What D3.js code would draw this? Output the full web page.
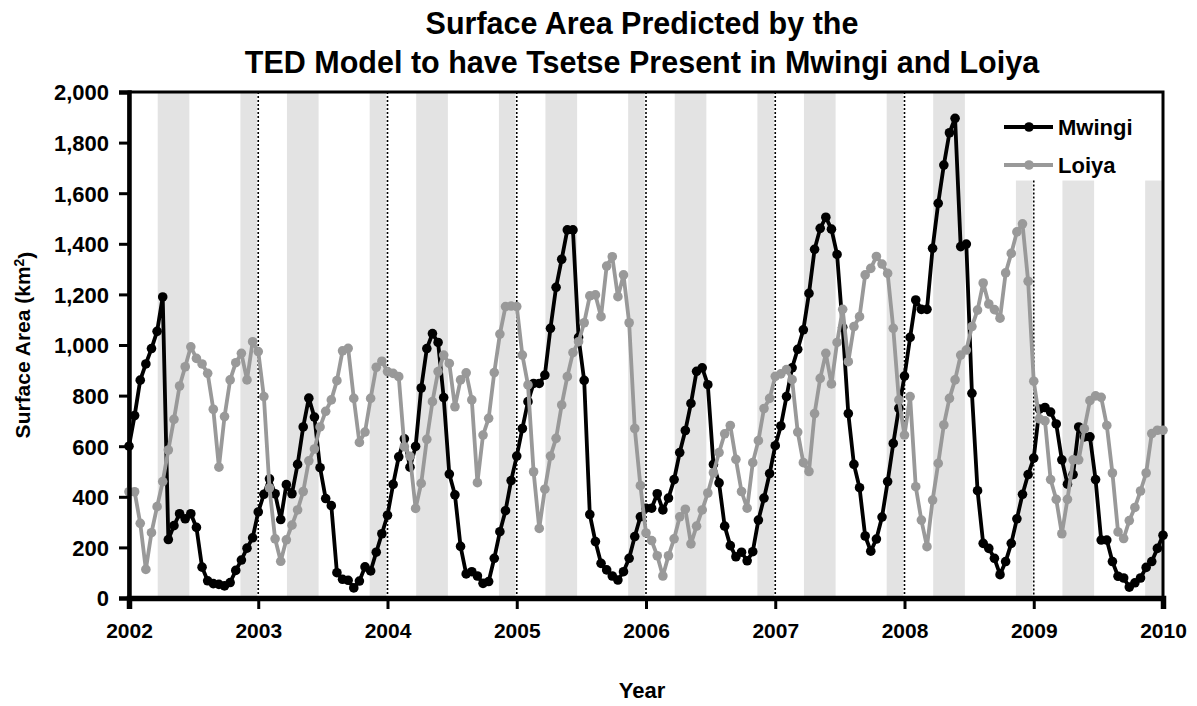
<!DOCTYPE html>
<html>
<head>
<meta charset="utf-8">
<script src="https://d3js.org/d3.v7.min.js"></script>
<style>
body { margin: 0; background: #fff; }
text { font-family: "Liberation Sans", Arial, sans-serif; font-weight: bold; fill: #000; }
</style>
</head>
<body>
<script>
// values: one point every 16 days, 23 per year
var mwingi = [600,721,861,925,986,1054,1190,231,286,333,313,333,279,122,68,57,54,48,61,109,150,197,238,
  340,410,471,412,310,448,412,528,676,790,715,515,393,365,100,74,70,40,67,123,107,181,254,
  327,449,558,629,517,599,830,986,1045,1010,792,490,408,204,95,104,87,58,65,157,262,345,464,
  561,670,776,848,848,881,1066,1228,1339,1455,1455,1030,860,330,223,137,111,87,71,104,157,243,321,
  355,355,412,348,395,468,575,662,769,896,910,843,528,455,284,207,163,181,147,183,308,395,492,
  602,680,796,910,983,1060,1204,1378,1461,1505,1458,1358,1070,729,528,436,245,185,233,320,460,611,750,
  877,1030,1178,1141,1141,1382,1560,1711,1839,1896,1389,1399,809,424,216,196,157,92,144,216,313,410,488,
  553,747,753,735,688,546,450,488,676,637,637,468,229,229,144,86,79,43,60,79,121,144,196,248];

var loiya = [420,420,295,113,258,361,460,585,706,838,914,993,947,925,888,746,517,717,862,930,967,862,1013,
  974,796,435,234,145,230,288,348,421,542,589,676,738,783,859,977,987,789,615,656,789,912,936,
  895,888,875,598,560,354,453,627,776,895,960,927,756,862,890,783,456,644,710,891,1043,1152,1154,
  1152,960,842,499,275,430,561,631,763,875,970,1013,1088,1194,1198,1112,1312,1349,1191,1277,1088,670,444,
  257,227,167,87,167,234,321,351,214,284,348,415,495,575,649,682,548,421,355,535,622,749,789,
  876,886,903,863,656,535,500,729,868,967,846,1010,1141,934,1073,1112,1277,1303,1350,1320,1283,1066,783,
  644,796,440,308,203,387,532,684,789,862,960,980,1073,1138,1245,1162,1140,1106,1285,1362,1447,1479,1252,
  857,708,700,468,390,254,390,546,546,669,780,799,793,682,494,261,235,306,358,423,494,650,663,663];

var pointsPerYear = 23;
var startYear = 2002;
var yearTicks = [2002,2003,2004,2005,2006,2007,2008,2009,2010];
var dottedYears = [2003,2004,2005,2006,2007,2008,2009];
var dottedTops = [2000,2000,2000,2000,2000,2000,1650];
var yTicks = [0,200,400,600,800,1000,1200,1400,1600,1800,2000];

// shaded seasons: start, end (decimal year), top value
var bandStart = [2002.222,2002.862,2003.222,2003.862,2004.222,2004.862,2005.222,2005.862,
  2006.222,2006.862,2007.222,2007.862,2008.222,2008.862,2009.222,2009.862];
var bandEnd = [2002.467,2002.99,2003.467,2003.99,2004.467,2004.99,2005.467,2005.99,
  2006.467,2006.99,2007.467,2007.99,2008.467,2008.99,2009.467,2010];
var bandTop = [2000,2000,2000,2000,2000,2000,2000,2000,2000,2000,2000,2000,2000,1650,1650,1650];

var seriesNames = ["Mwingi","Loiya"];
var seriesColors = ["#000000","#999999"];

var margin = {top: 92, right: 34, bottom: 108, left: 129},
    width = 1197 - margin.left - margin.right,
    height = 706 - margin.top - margin.bottom;

var svg = d3.select("body").append("svg")
    .attr("width", 1197)
    .attr("height", 706);

var g = svg.append("g")
    .attr("transform", "translate(" + margin.left + "," + margin.top + ")");

var xScale = d3.scaleLinear().domain([2002, 2010]).range([0, width]);
var yScale = d3.scaleLinear().domain([0, 2000]).range([height, 0]);

// shaded bands
var bands = bandStart.map(function(s, i) { return {s: s, e: bandEnd[i], top: bandTop[i]}; });
g.selectAll(".band")
    .data(bands)
    .enter().append("rect")
    .attr("class", "band")
    .attr("x", function(d) { return xScale(d.s); })
    .attr("width", function(d) { return xScale(d.e) - xScale(d.s); })
    .attr("y", function(d) { return yScale(d.top); })
    .attr("height", function(d) { return yScale(0) - yScale(d.top); })
    .style("fill", "#e3e3e3");

// dotted year lines
g.selectAll(".yearline")
    .data(dottedYears)
    .enter().append("line")
    .attr("x1", function(d) { return xScale(d); })
    .attr("x2", function(d) { return xScale(d); })
    .attr("y1", function(d, i) { return yScale(dottedTops[i]); })
    .attr("y2", yScale(0))
    .style("stroke", "#000")
    .style("stroke-width", 1.6)
    .style("stroke-dasharray", "2,2");

// frame
g.append("rect")
    .attr("width", width).attr("height", height)
    .style("fill", "none").style("stroke", "#000").style("stroke-width", 3);

function toPoints(arr) {
  return arr.map(function(v, i) { return {t: startYear + i / pointsPerYear, v: v}; });
}

var line = d3.line()
    .x(function(d) { return xScale(d.t); })
    .y(function(d) { return yScale(d.v); });

[mwingi, loiya].forEach(function(arr, k) {
  var pts = toPoints(arr);
  var sg = g.append("g");
  sg.append("path")
    .datum(pts)
    .attr("d", line)
    .style("fill", "none")
    .style("stroke", seriesColors[k])
    .style("stroke-width", 3.8)
    .style("stroke-linejoin", "round");
  sg.selectAll("circle")
    .data(pts)
    .enter().append("circle")
    .attr("cx", function(d) { return xScale(d.t); })
    .attr("cy", function(d) { return yScale(d.v); })
    .attr("r", 4.8)
    .style("fill", seriesColors[k]);
});

// axes
var yAxis = d3.axisLeft(yScale).tickValues(yTicks).tickFormat(d3.format(",")).tickSize(10).tickPadding(10);
var xAxis = d3.axisBottom(xScale).tickValues(yearTicks).tickFormat(d3.format("d")).tickSize(11).tickPadding(14);

var ya = g.append("g").call(yAxis);
ya.select(".domain").style("stroke-width", 4.5);
ya.selectAll(".tick line").style("stroke-width", 3);
ya.selectAll("text").style("font-size", "22px").attr("dy", "0.36em");

var xa = g.append("g").attr("transform", "translate(0," + height + ")").call(xAxis);
xa.select(".domain").style("stroke-width", 5.5);
xa.selectAll(".tick line").style("stroke-width", 3);
xa.selectAll("text").style("font-size", "21px");

// titles
svg.append("text")
    .attr("x", 642).attr("y", 34)
    .style("text-anchor", "middle").style("font-size", "30.5px")
    .text("Surface Area Predicted by the");
svg.append("text")
    .attr("x", 642).attr("y", 73)
    .style("text-anchor", "middle").style("font-size", "30.5px")
    .text("TED Model to have Tsetse Present in Mwingi and Loiya");

svg.append("text")
    .attr("x", 642).attr("y", 698)
    .style("text-anchor", "middle").style("font-size", "22px")
    .text("Year");

var ylab = svg.append("text")
    .attr("transform", "translate(30," + (margin.top + height / 2) + ") rotate(-90)")
    .style("text-anchor", "middle").style("font-size", "21px");
ylab.append("tspan").text("Surface Area (km");
ylab.append("tspan").attr("dy", "-0.45em").style("font-size", "14px").text("2");
ylab.append("tspan").attr("dy", "0.45em").text(")");

// legend
var legY = [127, 165];
seriesNames.forEach(function(name, k) {
  var lg = svg.append("g").attr("transform", "translate(1004," + legY[k] + ")");
  lg.append("line").attr("x1", 0).attr("x2", 49).attr("y1", 0).attr("y2", 0)
    .style("stroke", seriesColors[k]).style("stroke-width", 3.8);
  lg.append("circle").attr("cx", 25).attr("cy", 0).attr("r", 4.8).style("fill", seriesColors[k]);
  lg.append("text").attr("x", 54).attr("dy", "0.36em").style("font-size", "22px").text(name);
});
</script>
</body>
</html>
